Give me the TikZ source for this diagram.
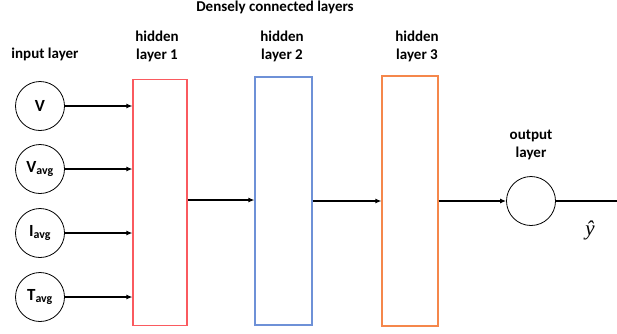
\documentclass[tikz,border=0pt]{standalone}
\usepackage{fontspec}
\setmainfont{Carlito}
\newfontfamily\yhatfont{Liberation Serif}
\usetikzlibrary{arrows.meta}

\definecolor{hredline}{RGB}{250,90,95}
\definecolor{hblueline}{RGB}{110,145,215}
\definecolor{horangeline}{RGB}{245,135,75}

\tikzset{
    unit/.style={draw, circle, thick, minimum size=49pt, inner sep=0pt, font=\bfseries\fontsize{17}{17}\selectfont},
    layerbox/.style={draw, line width=1.1pt, minimum width=54pt, minimum height=246pt, inner sep=0pt},
    lbl/.style={font=\bfseries\fontsize{15}{18}\selectfont, align=center},
    feed/.style={-{Latex[length=6pt,width=5pt]}, line width=1.3pt}
}

\begin{document}
\begin{tikzpicture}[x=1pt, y=-1pt]
        \useasboundingbox (0,0) rectangle (617,333);
        \node [lbl] (title) at (275,7) {Densely connected layers};
        \node [lbl] (inlbl) at (45,54) {input layer};
        \node [lbl] (h1lbl) at (157,46) {hidden\\layer 1};
        \node [lbl] (h2lbl) at (282,46) {hidden\\layer 2};
        \node [lbl] (h3lbl) at (417,46) {hidden\\layer 3};
        \node [lbl] (outlbl) at (531,145) {output\\layer};
        % inputs
        \node [unit] (v) at (40,106) {V};
        \node [unit] (vavg) at (40,169) {V\textsubscript{avg}};
        \node [unit] (iavg) at (40,233) {I\textsubscript{avg}};
        \node [unit] (tavg) at (40,297) {T\textsubscript{avg}};
        % hidden layers
        \node [layerbox, draw=hredline] (h1) at (160,202.5) {};
        \node [layerbox, draw=hblueline, minimum width=57pt, minimum height=248pt] (h2) at (283.5,201) {};
        \node [layerbox, draw=horangeline, minimum width=56pt, minimum height=250pt] (h3) at (410,201) {};
        % output
        \node [unit] (out) at (531,201) {};
        \coordinate (yend) at (623,201);
        \node [inner sep=1pt] (yhat) at (590,230) {\yhatfont\itshape\fontsize{21}{21}\selectfont ŷ};
        \draw[feed] (v) -- (h1.west |- v);
        \draw[feed] (vavg) -- (h1.west |- vavg);
        \draw[feed] (iavg) -- (h1.west |- iavg);
        \draw[feed] (tavg) -- (h1.west |- tavg);
        \draw[feed] (h1.east |- 0,200) -- (h2.west |- 0,200);
        \draw[feed] (h2.east |- 0,201) -- (h3.west |- 0,201);
        \draw[feed] (h3.east |- out) -- (out);
        \draw[feed] (out) -- (yend);
    \end{tikzpicture}
\end{document}
